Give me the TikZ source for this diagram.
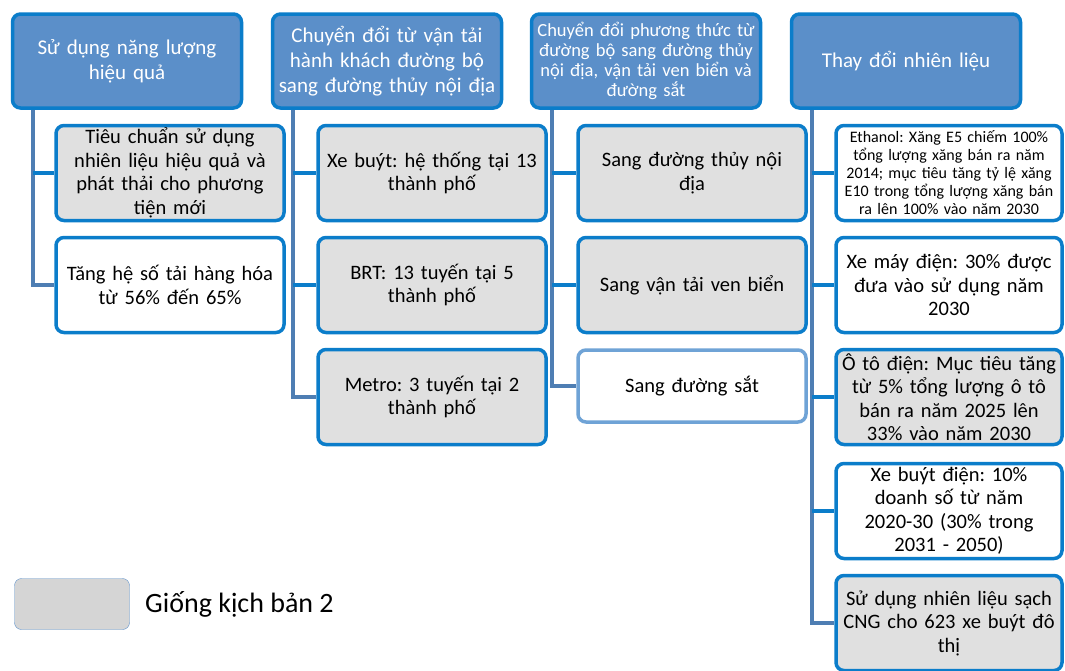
\documentclass[tikz,border=0pt]{standalone}
\usepackage{fontspec}
\setmainfont{Carlito}
\usetikzlibrary{positioning}
\frenchspacing
\definecolor{hdrblue}{HTML}{5B8FC9}
\definecolor{edgeblue}{HTML}{0B7DCA}
\definecolor{paleedge}{HTML}{6FA3D6}
\definecolor{trunkblue}{HTML}{4E7EB3}
\definecolor{samegrey}{HTML}{E0E0E0}
\tikzset{box/.style={draw=edgeblue,line width=3.5pt,rounded corners=8pt,
                     align=center,inner sep=2pt},
         head/.style={box,fill=hdrblue,text=white,minimum width=229pt,
                      minimum height=94pt,text width=222pt,
                      font=\fontsize{21}{25}\selectfont},
         item/.style={box,fill=white,minimum width=228pt,minimum height=95pt,
                      text width=222pt,font=\fontsize{20.5}{23.5}\selectfont},
         same/.style={item,fill=samegrey},
         link/.style={draw=edgeblue,line width=4pt},
         trunk/.style={draw=trunkblue,line width=4pt}}

\begin{document}
\begin{tikzpicture}[x=1pt,y=-1pt]
    \useasboundingbox (0,0) rectangle (1065,670);
    % headers
    \node[head] (h1) at (127,61) {Sử dụng năng lượng\\hiệu quả};
    \node[head] (h2) at (387,61) {Chuyển đổi từ vận tải\\hành khách đường bộ\\sang đường thủy nội địa};
    \node[head,font=\fontsize{18.5}{20}\selectfont] (h3) at (646,61)
        {Chuyển đổi phương thức từ\\đường bộ sang đường thủy\\nội địa, vận tải ven biển và\\đường sắt};
    \node[head] (h4) at (906,61) {Thay đổi nhiên liệu};
    % column 1
    \node[same] (a1) at (170,173) {Tiêu chuẩn sử dụng\\nhiên liệu hiệu quả và\\phát thải cho phương\\tiện mới};
    \node[item] (a2) at (170,285) {Tăng hệ số tải hàng hóa\\từ 56\% đến 65\%};
    % column 2
    \node[same] (b1) at (432,173) {Xe buýt: hệ thống tại 13\\thành phố};
    \node[same] (b2) at (432,285) {BRT: 13 tuyến tại 5\\thành phố};
    \node[same] (b3) at (432,397) {Metro: 3 tuyến tại 2\\thành phố};
    % column 3
    \node[same] (c1) at (692,173) {Sang đường thủy nội\\địa};
    \node[same] (c2) at (692,285) {Sang vận tải ven biển};
    \node[item,draw=paleedge,minimum height=72pt] (c3) at (692,386) {Sang đường sắt};
    % column 4
    \node[item,minimum width=224pt,font=\fontsize{16}{18}\selectfont] (d1) at (949,173)
        {Ethanol: Xăng E5 chiếm 100\%\\tổng lượng xăng bán ra năm\\2014; mục tiêu tăng tỷ lệ xăng\\E10 trong tổng lượng xăng bán\\ra lên 100\% vào năm 2030};
    \node[item,minimum width=224pt] (d2) at (949,285) {Xe máy điện: 30\% được\\đưa vào sử dụng năm\\2030};
    \node[same,minimum width=224pt] (d3) at (949,397) {Ô tô điện: Mục tiêu tăng\\từ 5\% tổng lượng ô tô\\bán ra năm 2025 lên\\33\% vào năm 2030};
    \node[item,minimum width=224pt] (d4) at (949,511) {Xe buýt điện: 10\%\\doanh số từ năm\\2020-30 (30\% trong\\2031 - 2050)};
    \node[same,minimum width=224pt] (d5) at (949,623) {Sử dụng nhiên liệu sạch\\CNG cho 623 xe buýt đô\\thị};
    % connectors
    \coordinate (t1) at ([xshift=22pt]h1.south west);
    \coordinate (t2) at ([xshift=22pt]h2.south west);
    \coordinate (t3) at ([xshift=22pt]h3.south west);
    \coordinate (t4) at ([xshift=22pt]h4.south west);
    \draw[trunk] (t1) |- (a2.west);
    \draw[link] (t1 |- a1.west) -- (a1.west);
    \draw[trunk] (t2) |- (b3.west);
    \foreach \n in {b1,b2}
        \draw[link] (t2 |- \n.west) -- (\n.west);
    \draw[trunk] (t3) |- (c3.west);
    \foreach \n in {c1,c2}
        \draw[link] (t3 |- \n.west) -- (\n.west);
    \draw[trunk] (t4) |- (d5.west);
    \foreach \n in {d1,d2,d3,d4}
        \draw[link] (t4 |- \n.west) -- (\n.west);
    % legend
    \node[draw=hdrblue,fill=samegrey!95!black,rounded corners=7pt,
          minimum width=115pt,minimum height=51pt] (key) at (72,604) {};
    \node[right=12pt of key,font=\fontsize{28}{32}\selectfont] (keytext) {Giống kịch bản 2};
\end{tikzpicture}
\end{document}
